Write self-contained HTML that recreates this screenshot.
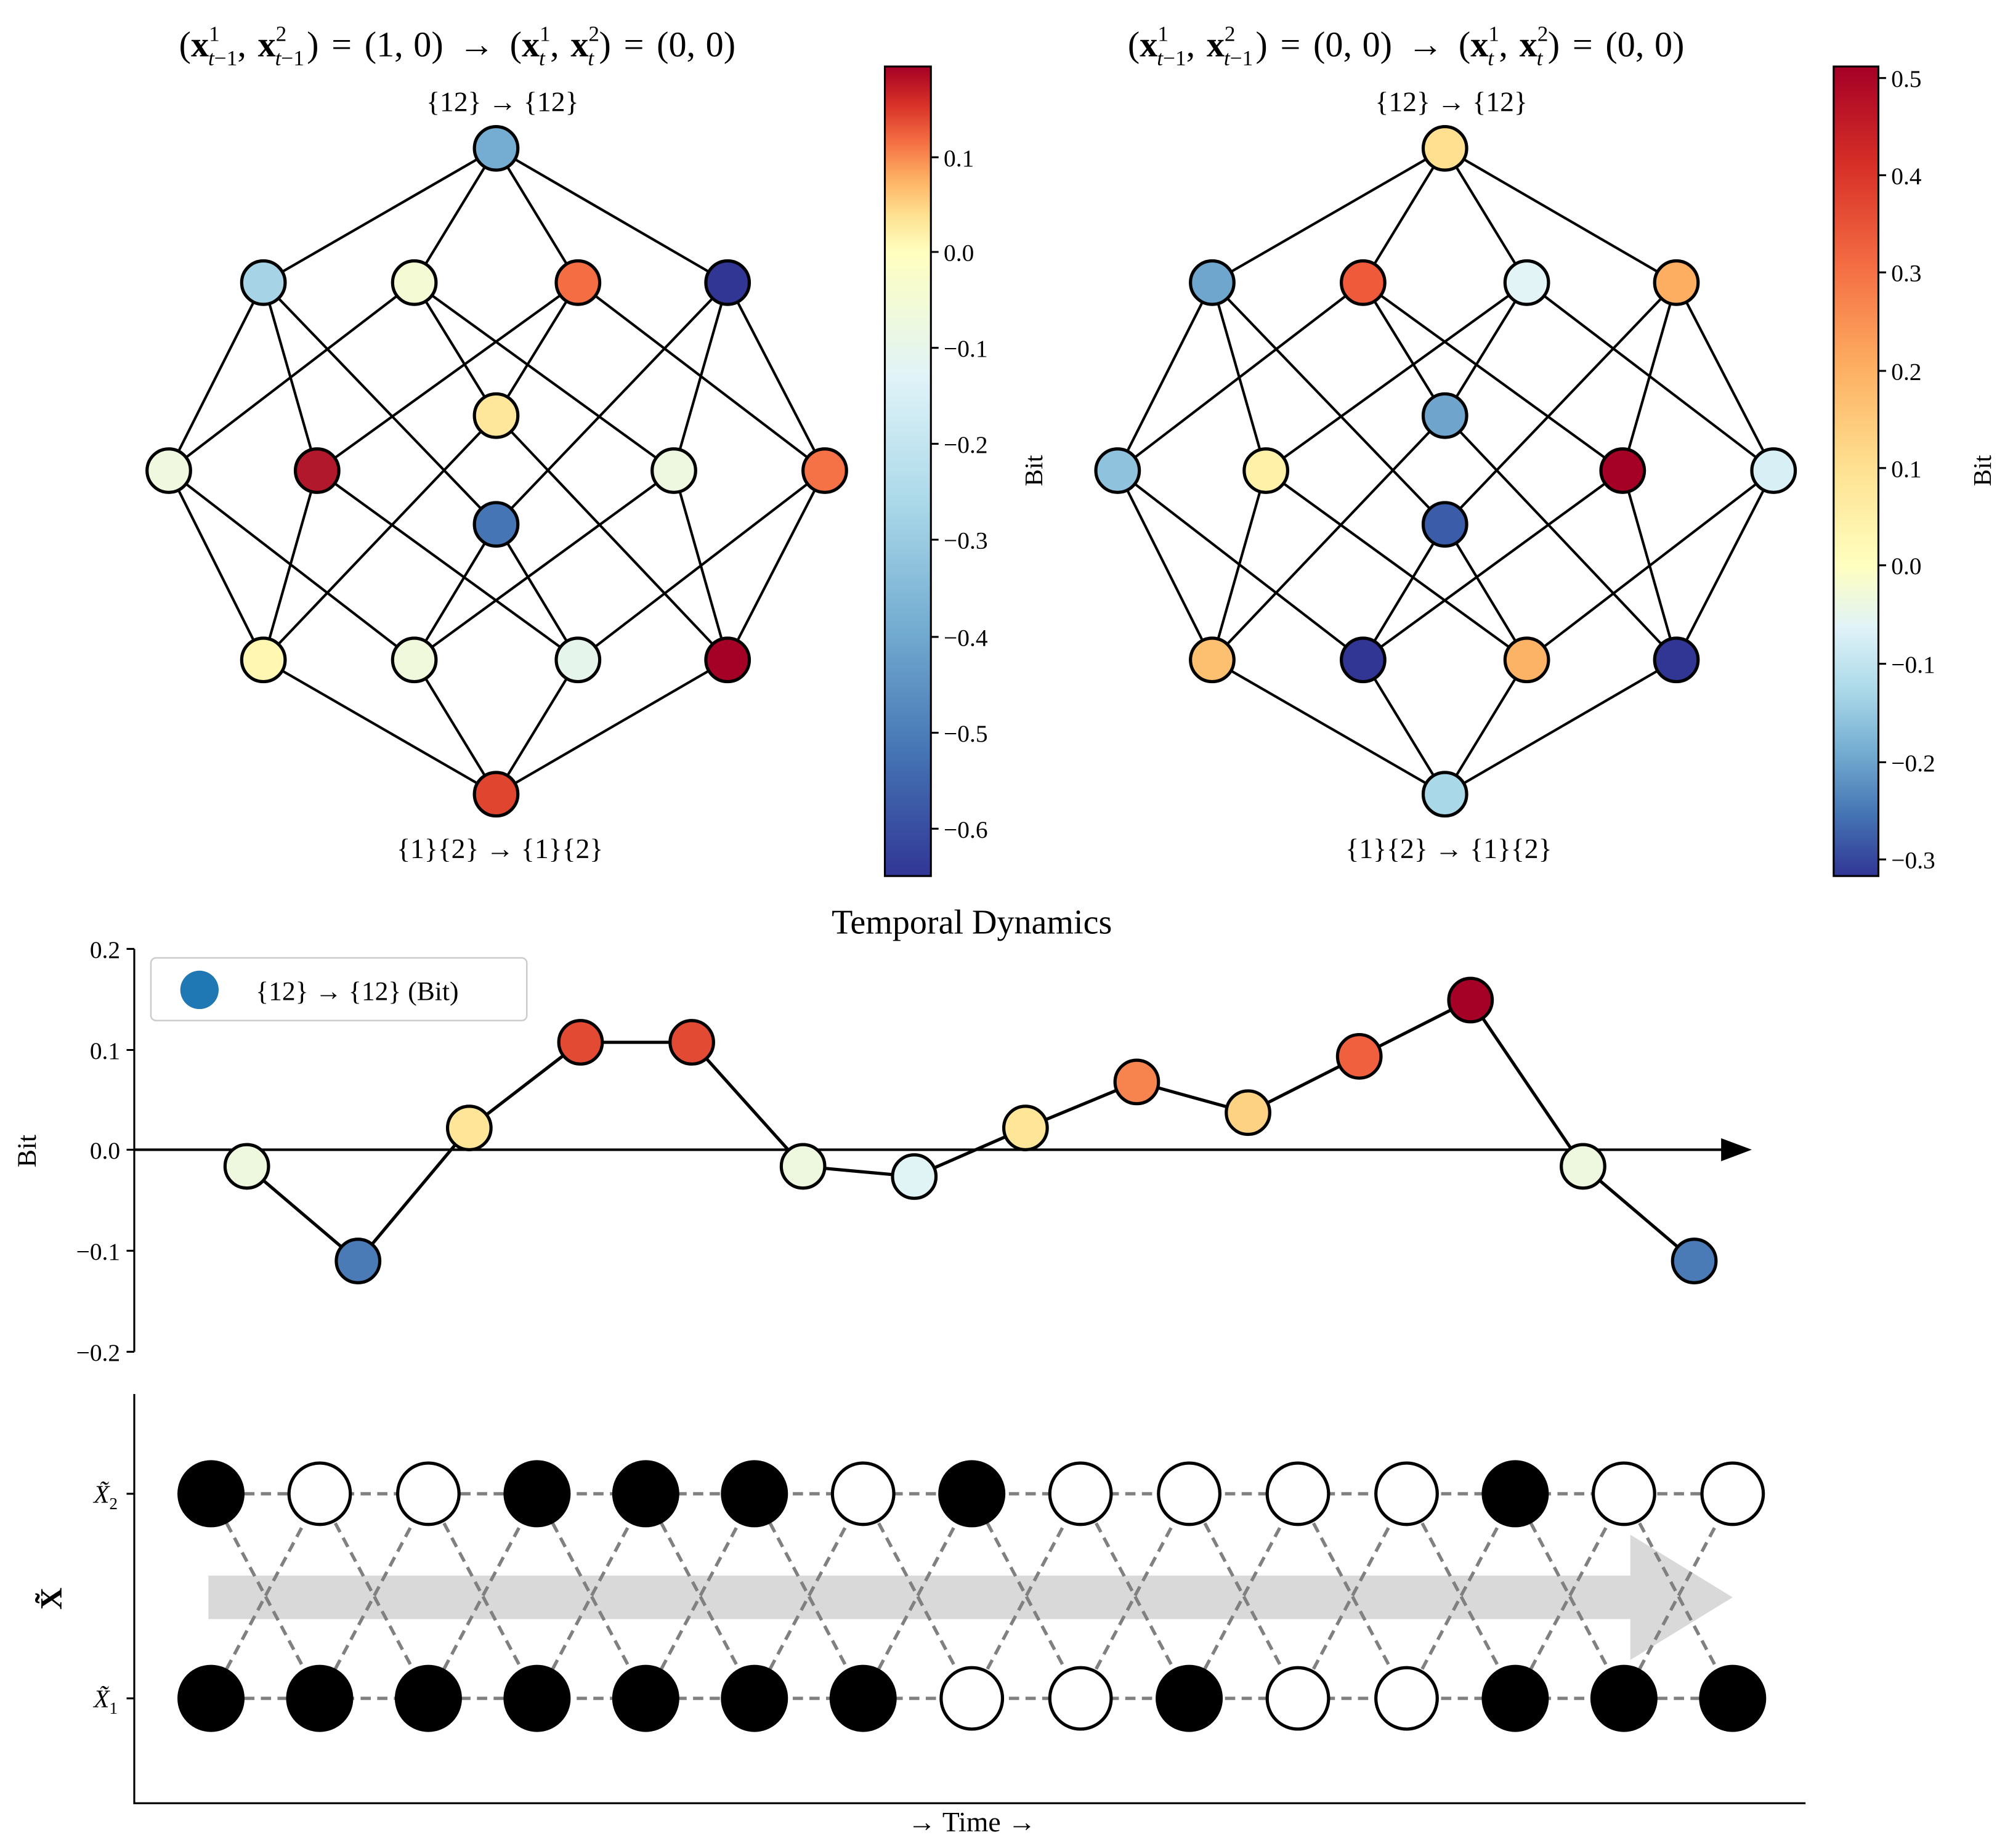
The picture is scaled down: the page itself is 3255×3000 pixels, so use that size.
<!DOCTYPE html>
<html><head><meta charset="utf-8"><style>html,body{margin:0;padding:0;background:#fff}svg{display:block}</style></head>
<body>
<svg width="3255" height="3000" viewBox="0 0 1568 1445" preserveAspectRatio="none" xmlns="http://www.w3.org/2000/svg" font-family="Liberation Serif, serif">
<defs>
<linearGradient id="cmL" x1="0" y1="0" x2="0" y2="1">
<stop offset="0" stop-color="#a50026"/><stop offset="0.046" stop-color="#d73027"/><stop offset="0.092" stop-color="#f46d43"/><stop offset="0.137" stop-color="#fdae61"/><stop offset="0.183" stop-color="#fee090"/><stop offset="0.229" stop-color="#ffffbf"/><stop offset="0.383" stop-color="#e0f3f8"/><stop offset="0.537" stop-color="#abd9e9"/><stop offset="0.692" stop-color="#74add1"/><stop offset="0.846" stop-color="#4575b4"/><stop offset="1" stop-color="#313695"/>
</linearGradient>
<linearGradient id="cmR" x1="0" y1="0" x2="0" y2="1">
<stop offset="0" stop-color="#a50026"/><stop offset="0.123" stop-color="#d73027"/><stop offset="0.246" stop-color="#f46d43"/><stop offset="0.37" stop-color="#fdae61"/><stop offset="0.493" stop-color="#fee090"/><stop offset="0.616" stop-color="#ffffbf"/><stop offset="0.693" stop-color="#e0f3f8"/><stop offset="0.77" stop-color="#abd9e9"/><stop offset="0.846" stop-color="#74add1"/><stop offset="0.923" stop-color="#4575b4"/><stop offset="1" stop-color="#313695"/>
</linearGradient>
<g id="edges" stroke="#000" stroke-width="2" fill="none">
<path d="M388,116L206,221M388,116L324,221M388,116L452,221M388,116L569,221
M206,221L132,368M206,221L248,368M206,221L388,410
M324,221L132,368M324,221L388,325M324,221L527,368
M452,221L248,368M452,221L388,325M452,221L645,368
M569,221L388,410M569,221L527,368M569,221L645,368
M132,368L206,516M132,368L324,516
M248,368L206,516M248,368L452,516
M388,325L206,516M388,325L569,516
M388,410L324,516M388,410L452,516
M527,368L324,516M527,368L569,516
M645,368L452,516M645,368L569,516
M206,516L388,621M324,516L388,621M452,516L388,621M569,516L388,621"/>
</g>
</defs>

<use href="#edges"/>
<g stroke="#000" stroke-width="2.5">
<circle cx="388" cy="116" r="17" fill="#74add1"/>
<circle cx="206" cy="221" r="17" fill="#a6d4e6"/>
<circle cx="324" cy="221" r="17" fill="#f4fad4"/>
<circle cx="452" cy="221" r="17" fill="#f46d43"/>
<circle cx="569" cy="221" r="17" fill="#313695"/>
<circle cx="132" cy="368" r="17" fill="#f0f9e0"/>
<circle cx="248" cy="368" r="17" fill="#b2182b"/>
<circle cx="388" cy="325" r="17" fill="#fee79a"/>
<circle cx="388" cy="410" r="17" fill="#4575b4"/>
<circle cx="527" cy="368" r="17" fill="#eef8e0"/>
<circle cx="645" cy="368" r="17" fill="#f47245"/>
<circle cx="206" cy="516" r="17" fill="#fff7b2"/>
<circle cx="324" cy="516" r="17" fill="#f1f9dc"/>
<circle cx="452" cy="516" r="17" fill="#e6f5ec"/>
<circle cx="569" cy="516" r="17" fill="#a50026"/>
<circle cx="388" cy="621" r="17" fill="#e04530"/>
</g>

<use href="#edges" x="742"/>
<g stroke="#000" stroke-width="2.5">
<circle cx="1130" cy="116" r="17" fill="#fee090"/>
<circle cx="948" cy="221" r="17" fill="#6ea6ce"/>
<circle cx="1066" cy="221" r="17" fill="#ef5a3a"/>
<circle cx="1194" cy="221" r="17" fill="#e3f4f7"/>
<circle cx="1311" cy="221" r="17" fill="#fdae61"/>
<circle cx="874" cy="368" r="17" fill="#8fc3dd"/>
<circle cx="990" cy="368" r="17" fill="#fff2a8"/>
<circle cx="1130" cy="325" r="17" fill="#6fa5cd"/>
<circle cx="1130" cy="410" r="17" fill="#3b5ca8"/>
<circle cx="1269" cy="368" r="17" fill="#a50026"/>
<circle cx="1387" cy="368" r="17" fill="#d8eff5"/>
<circle cx="948" cy="516" r="17" fill="#fdbf70"/>
<circle cx="1066" cy="516" r="17" fill="#313695"/>
<circle cx="1194" cy="516" r="17" fill="#fdb365"/>
<circle cx="1311" cy="516" r="17" fill="#313695"/>
<circle cx="1130" cy="621" r="17" fill="#a9d8e8"/>
</g>

<g font-size="28" font-weight="normal">
<text x="140" y="44">(<tspan font-weight="bold">x</tspan><tspan font-size="17" dy="-12">1</tspan><tspan font-size="17" dx="-9" dy="19" font-style="italic">t</tspan><tspan font-size="17">−1</tspan><tspan dy="-7">,</tspan><tspan font-weight="bold" dx="9">x</tspan><tspan font-size="17" dy="-12">2</tspan><tspan font-size="17" dx="-9" dy="19" font-style="italic">t</tspan><tspan font-size="17">−1</tspan><tspan dy="-7" dx="2">)</tspan><tspan dx="10">=</tspan><tspan dx="10">(1,</tspan><tspan dx="8">0)</tspan><tspan dx="12">→</tspan><tspan dx="12">(</tspan><tspan font-weight="bold">x</tspan><tspan font-size="17" dy="-12">1</tspan><tspan font-size="17" dx="-9" dy="19" font-style="italic">t</tspan><tspan dy="-7" dx="4">,</tspan><tspan font-weight="bold" dx="9">x</tspan><tspan font-size="17" dy="-12">2</tspan><tspan font-size="17" dx="-9" dy="19" font-style="italic">t</tspan><tspan dy="-7" dx="4">)</tspan><tspan dx="10">=</tspan><tspan dx="10">(0,</tspan><tspan dx="8">0)</tspan></text>
<text x="882" y="44">(<tspan font-weight="bold">x</tspan><tspan font-size="17" dy="-12">1</tspan><tspan font-size="17" dx="-9" dy="19" font-style="italic">t</tspan><tspan font-size="17">−1</tspan><tspan dy="-7">,</tspan><tspan font-weight="bold" dx="9">x</tspan><tspan font-size="17" dy="-12">2</tspan><tspan font-size="17" dx="-9" dy="19" font-style="italic">t</tspan><tspan font-size="17">−1</tspan><tspan dy="-7" dx="2">)</tspan><tspan dx="10">=</tspan><tspan dx="10">(0,</tspan><tspan dx="8">0)</tspan><tspan dx="12">→</tspan><tspan dx="12">(</tspan><tspan font-weight="bold">x</tspan><tspan font-size="17" dy="-12">1</tspan><tspan font-size="17" dx="-9" dy="19" font-style="italic">t</tspan><tspan dy="-7" dx="4">,</tspan><tspan font-weight="bold" dx="9">x</tspan><tspan font-size="17" dy="-12">2</tspan><tspan font-size="17" dx="-9" dy="19" font-style="italic">t</tspan><tspan dy="-7" dx="4">)</tspan><tspan dx="10">=</tspan><tspan dx="10">(0,</tspan><tspan dx="8">0)</tspan></text>
</g>
<g font-size="22" text-anchor="middle">
<text x="393" y="87">{12} → {12}</text>
<text x="1135" y="87">{12} → {12}</text>
<text x="391" y="671">{1}{2} → {1}{2}</text>
<text x="1133" y="671">{1}{2} → {1}{2}</text>
</g>

<rect x="692" y="52" width="36" height="633" fill="url(#cmL)" stroke="#000" stroke-width="1.5"/>
<rect x="1434" y="52" width="35" height="633" fill="url(#cmR)" stroke="#000" stroke-width="1.5"/>
<g stroke="#000" stroke-width="1.5">
<path d="M728,123h6M728,197h6M728,272h6M728,347h6M728,422h6M728,498h6M728,573h6M728,648h6"/>
<path d="M1469,61h6M1469,137h6M1469,213h6M1469,290h6M1469,366h6M1469,442h6M1469,519h6M1469,596h6M1469,672h6"/>
</g>
<g font-size="19">
<text x="738" y="130">0.1</text><text x="738" y="204">0.0</text><text x="738" y="279">−0.1</text><text x="738" y="354">−0.2</text><text x="738" y="429">−0.3</text><text x="738" y="505">−0.4</text><text x="738" y="580">−0.5</text><text x="738" y="655">−0.6</text>
<text x="1479" y="68">0.5</text><text x="1479" y="144">0.4</text><text x="1479" y="220">0.3</text><text x="1479" y="297">0.2</text><text x="1479" y="373">0.1</text><text x="1479" y="449">0.0</text><text x="1479" y="526">−0.1</text><text x="1479" y="603">−0.2</text><text x="1479" y="679">−0.3</text>
</g>
<text font-size="20" transform="translate(815,368) rotate(-90)" text-anchor="middle">Bit</text>
<text font-size="20" transform="translate(1557,368) rotate(-90)" text-anchor="middle">Bit</text>

<text x="760" y="730" font-size="27" text-anchor="middle">Temporal Dynamics</text>
<path d="M105,742V1057" stroke="#000" stroke-width="1.5"/>
<g stroke="#000" stroke-width="1.5"><path d="M99,742h6M99,821h6M99,899h6M99,978h6M99,1057h6"/></g>
<g font-size="19" text-anchor="end">
<text x="94" y="749">0.2</text><text x="94" y="828">0.1</text><text x="94" y="906">0.0</text><text x="94" y="985">−0.1</text><text x="94" y="1064">−0.2</text>
</g>
<text font-size="21" transform="translate(28,900) rotate(-90)" text-anchor="middle">Bit</text>
<path d="M105,899H1350" stroke="#000" stroke-width="2"/>
<polygon points="1346,890 1370,899 1346,908" fill="#000"/>
<polyline points="193,912 280,986 367,882 454,815 541,815 628,912 715,920 802,882 889,846 976,870 1063,826 1150,782 1238,912 1325,986" fill="none" stroke="#000" stroke-width="2.5"/>
<g stroke="#000" stroke-width="2.5">
<circle cx="193" cy="912" r="17" fill="#eef8df"/>
<circle cx="280" cy="986" r="17" fill="#4a7bb7"/>
<circle cx="367" cy="882" r="17" fill="#fee597"/>
<circle cx="454" cy="815" r="17" fill="#e34a33"/>
<circle cx="541" cy="815" r="17" fill="#e34a33"/>
<circle cx="628" cy="912" r="17" fill="#eef8df"/>
<circle cx="715" cy="920" r="17" fill="#e0f3f5"/>
<circle cx="802" cy="882" r="17" fill="#fee597"/>
<circle cx="889" cy="846" r="17" fill="#f7844e"/>
<circle cx="976" cy="870" r="17" fill="#fed283"/>
<circle cx="1063" cy="826" r="17" fill="#f0603f"/>
<circle cx="1150" cy="782" r="17" fill="#a50026"/>
<circle cx="1238" cy="912" r="17" fill="#eef8df"/>
<circle cx="1325" cy="986" r="17" fill="#4a7bb7"/>
</g>
<rect x="118" y="749" width="294" height="49" rx="4" fill="#fff" stroke="#ccc" stroke-width="1.2"/>
<circle cx="156" cy="774" r="15" fill="#1f77b4"/>
<text x="200" y="782" font-size="21">{12} → {12} (Bit)</text>

<path d="M105,1090V1410H1412" fill="none" stroke="#000" stroke-width="1.5"/>
<g stroke="#000" stroke-width="1.5"><path d="M99,1168h6M99,1328h6"/></g>
<g font-size="20" text-anchor="end" font-style="italic">
<text x="92" y="1175">X̃<tspan font-size="13" dy="5" font-style="normal">2</tspan></text>
<text x="92" y="1335">X̃<tspan font-size="13" dy="5" font-style="normal">1</tspan></text>
</g>
<text font-size="24" font-weight="bold" transform="translate(48,1250) rotate(-90)" text-anchor="middle">X̃</text>
<text x="760" y="1432" font-size="22" text-anchor="middle">→ Time →</text>
<polygon points="163,1232 1275,1232 1275,1200 1355,1249 1275,1298 1275,1266 163,1266" fill="#d9d9d9"/>
<g stroke="#808080" stroke-width="2.6" stroke-dasharray="8,5" fill="none">
<path d="M165,1168H1355M165,1328H1355"/>
<path d="M165,1168L250,1328M250,1168L335,1328M335,1168L420,1328M420,1168L505,1328M505,1168L590,1328M590,1168L675,1328M675,1168L760,1328M760,1168L845,1328M845,1168L930,1328M930,1168L1015,1328M1015,1168L1100,1328M1100,1168L1185,1328M1185,1168L1270,1328M1270,1168L1355,1328"/>
<path d="M165,1328L250,1168M250,1328L335,1168M335,1328L420,1168M420,1328L505,1168M505,1328L590,1168M590,1328L675,1168M675,1328L760,1168M760,1328L845,1168M845,1328L930,1168M930,1328L1015,1168M1015,1328L1100,1168M1100,1328L1185,1168M1185,1328L1270,1168M1270,1328L1355,1168"/>
</g>
<g stroke="#000" stroke-width="2.5">
<circle cx="165" cy="1168" r="25" fill="#000"/>
<circle cx="250" cy="1168" r="24" fill="#fff"/>
<circle cx="335" cy="1168" r="24" fill="#fff"/>
<circle cx="420" cy="1168" r="25" fill="#000"/>
<circle cx="505" cy="1168" r="25" fill="#000"/>
<circle cx="590" cy="1168" r="25" fill="#000"/>
<circle cx="675" cy="1168" r="24" fill="#fff"/>
<circle cx="760" cy="1168" r="25" fill="#000"/>
<circle cx="845" cy="1168" r="24" fill="#fff"/>
<circle cx="930" cy="1168" r="24" fill="#fff"/>
<circle cx="1015" cy="1168" r="24" fill="#fff"/>
<circle cx="1100" cy="1168" r="24" fill="#fff"/>
<circle cx="1185" cy="1168" r="25" fill="#000"/>
<circle cx="1270" cy="1168" r="24" fill="#fff"/>
<circle cx="1355" cy="1168" r="24" fill="#fff"/>
<circle cx="165" cy="1328" r="25" fill="#000"/>
<circle cx="250" cy="1328" r="25" fill="#000"/>
<circle cx="335" cy="1328" r="25" fill="#000"/>
<circle cx="420" cy="1328" r="25" fill="#000"/>
<circle cx="505" cy="1328" r="25" fill="#000"/>
<circle cx="590" cy="1328" r="25" fill="#000"/>
<circle cx="675" cy="1328" r="25" fill="#000"/>
<circle cx="760" cy="1328" r="24" fill="#fff"/>
<circle cx="845" cy="1328" r="24" fill="#fff"/>
<circle cx="930" cy="1328" r="25" fill="#000"/>
<circle cx="1015" cy="1328" r="24" fill="#fff"/>
<circle cx="1100" cy="1328" r="24" fill="#fff"/>
<circle cx="1185" cy="1328" r="25" fill="#000"/>
<circle cx="1270" cy="1328" r="25" fill="#000"/>
<circle cx="1355" cy="1328" r="25" fill="#000"/>
</g>
</svg>
</body></html>
